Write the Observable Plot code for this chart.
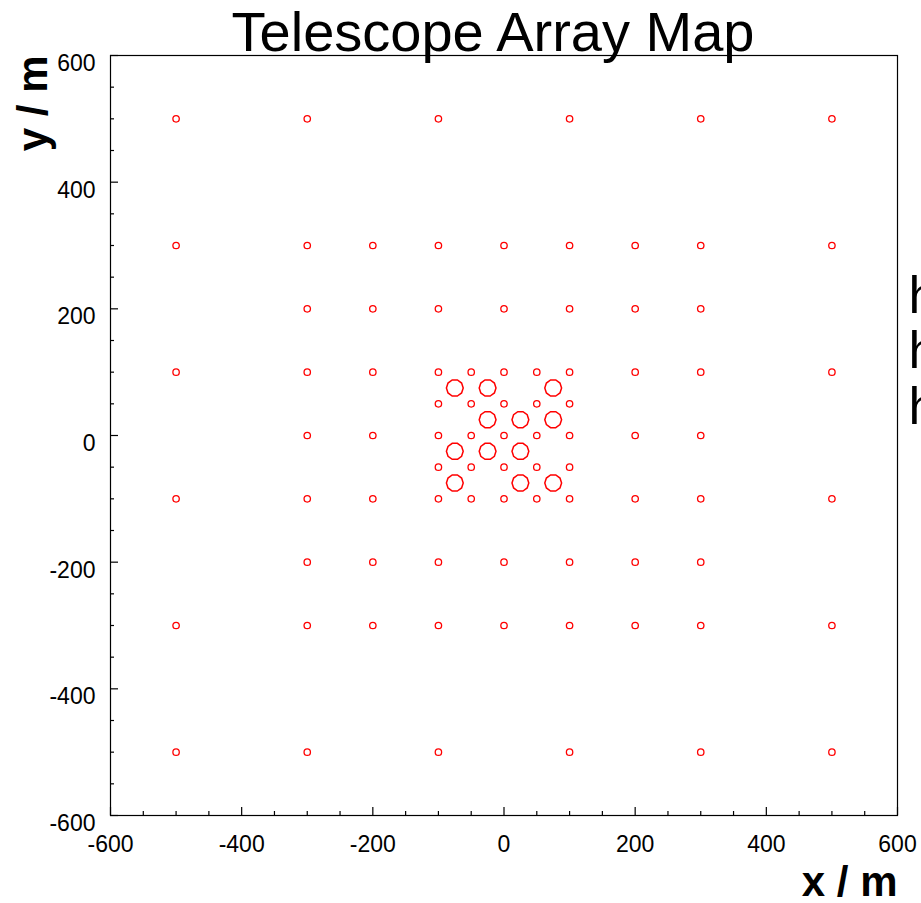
<!DOCTYPE html>
<html>
<head>
<meta charset="utf-8">
<script src="https://cdn.jsdelivr.net/npm/d3@7"></script>
<script src="https://cdn.jsdelivr.net/npm/@observablehq/plot@0.6"></script>
<style>
  html, body { margin: 0; padding: 0; background: #fff; }
  svg { display: block; }
</style>
</head>
<body>
<div id="chart"></div>
<script>
// ---- data ----
const titleText = "Telescope Array Map";
const xLabel = "x / m";
const yLabel = "y / m";
const legendLabels = ["h", "h", "h"];

const majorTicks = [-600, -400, -200, 0, 200, 400, 600];
const minorTicks = [-550, -500, -450, -350, -300, -250, -150, -100, -50, 50, 100, 150, 250, 300, 350, 450, 500, 550];

// small stations: one row per y value
const stationRowY = [500, 300, 200, 100, 50, 0, -50, -100, -200, -300, -500];
const stationRowX = [
  [-500, -300, -100, 100, 300, 500],
  [-500, -300, -200, -100, 0, 100, 200, 300, 500],
  [-300, -200, -100, 0, 100, 200, 300],
  [-500, -300, -200, -100, -50, 0, 50, 100, 200, 300, 500],
  [-100, -50, 0, 50, 100],
  [-300, -200, -100, -50, 0, 50, 100, 200, 300],
  [-100, -50, 0, 50, 100],
  [-500, -300, -200, -100, -50, 0, 50, 100, 200, 300, 500],
  [-300, -200, -100, 0, 100, 200, 300],
  [-500, -300, -200, -100, 0, 100, 200, 300, 500],
  [-500, -300, -100, 100, 300, 500]
];

// large telescopes
const telescopeX = [-75, -25, 75, -25, 25, 75, -75, -25, 25, -75, 25, 75];
const telescopeY = [75, 75, 75, 25, 25, 25, -25, -25, -25, -75, -75, -75];

// ---- build tables ----
const stations = stationRowY.flatMap((y, i) => stationRowX[i].map(x => ({x, y})));
const telescopes = telescopeX.map((x, i) => ({x, y: telescopeY[i]}));

const polygon = {
  draw(context, size) {
    const r = Math.sqrt(size / Math.PI);
    const n = 10;
    for (let k = 0; k < n; ++k) {
      const a = (k + 0.5) * 2 * Math.PI / n;
      const px = r * Math.sin(a), py = r * Math.cos(a);
      if (k === 0) context.moveTo(px, py); else context.lineTo(px, py);
    }
    context.closePath();
  }
};

const font = "'Liberation Sans', Arial, Helvetica, sans-serif";
const fmt = d => String(d);

const legendMarks = legendLabels.map((t, i) =>
  Plot.text([t], {frameAnchor: "top-right", dx: 11, dy: 257 + i * 55.5, textAnchor: "start",
    lineAnchor: "bottom", fontSize: 52, fill: "black"})
);

const chart = Plot.plot({
  width: 921,
  height: 903,
  marginLeft: 110,
  marginRight: 24,
  marginTop: 55,
  marginBottom: 88,
  style: {fontFamily: font, background: "white", overflow: "visible"},
  x: {domain: [-600, 600], axis: null},
  y: {domain: [-600, 600], axis: null},
  marks: [
    Plot.frame({stroke: "black", strokeWidth: 1.2}),
    // x ticks (inside)
    Plot.axisX({ticks: majorTicks, tickSize: 8, dy: -8, text: null, label: null, stroke: "black", strokeWidth: 1.2}),
    Plot.axisX({ticks: minorTicks, tickSize: 4, dy: -4, text: null, label: null, stroke: "black", strokeWidth: 1.2}),
    Plot.axisX({ticks: majorTicks, tickSize: 0, tickPadding: 20, tickFormat: fmt, fontSize: 23, fill: "black", label: null}),
    // y ticks (inside)
    Plot.axisY({ticks: majorTicks, tickSize: 8, dx: 8, text: null, label: null, stroke: "black", strokeWidth: 1.2}),
    Plot.axisY({ticks: minorTicks, tickSize: 4, dx: 4, text: null, label: null, stroke: "black", strokeWidth: 1.2}),
    Plot.axisY({ticks: majorTicks, tickSize: 0, tickPadding: 15, tickFormat: fmt, fontSize: 23, fill: "black", lineAnchor: "top", dy: -1, label: null}),
    // stations
    Plot.dot(stations, {x: "x", y: "y", r: 3.2, stroke: "#ff0000", strokeWidth: 1.3, fill: "none"}),
    Plot.dot(telescopes, {x: "x", y: "y", r: 8.4, symbol: polygon, stroke: "#ff0000", strokeWidth: 1.5, fill: "none"}),
    // title
    Plot.text([titleText], {frameAnchor: "top", dx: -11, dy: -5, lineAnchor: "bottom", fontSize: 56, fill: "black"}),
    // axis titles
    Plot.text([xLabel], {frameAnchor: "bottom-right", dy: 80, textAnchor: "end", lineAnchor: "bottom", fontSize: 42, fontWeight: "bold", fill: "black"}),
    Plot.text([yLabel], {frameAnchor: "top-left", dx: -64, rotate: -90, textAnchor: "end", lineAnchor: "bottom", fontSize: 42, fontWeight: "bold", fill: "black"}),
    ...legendMarks
  ]
});
document.getElementById("chart").appendChild(chart);
</script>
</body>
</html>
